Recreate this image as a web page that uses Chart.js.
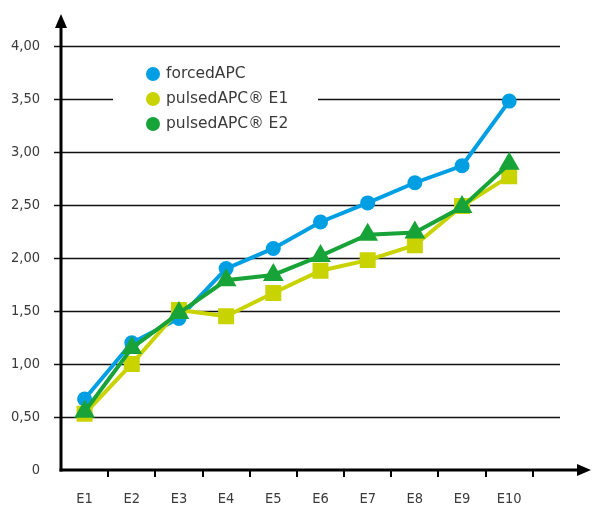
<!DOCTYPE html>
<html>
<head>
<meta charset="utf-8">
<script src="https://cdn.jsdelivr.net/npm/chart.js@4"></script>
<style>
  html, body { margin: 0; padding: 0; background: #fff; }
  canvas { display: block; }
</style>
</head>
<body>
<canvas id="chart" width="592" height="506"></canvas>
<script>
// data
const categories = ["E1", "E2", "E3", "E4", "E5", "E6", "E7", "E8", "E9", "E10", ""];
const forcedAPC = [0.67, 1.20, 1.43, 1.90, 2.09, 2.34, 2.52, 2.71, 2.87, 3.48];
const pulsedE1 = [0.53, 1.00, 1.51, 1.45, 1.67, 1.88, 1.98, 2.12, 2.49, 2.77];
const pulsedE2 = [0.55, 1.15, 1.48, 1.79, 1.84, 2.02, 2.22, 2.24, 2.48, 2.89];
const seriesNames = ["forcedAPC", "pulsedAPC® E1", "pulsedAPC® E2"];
const yMin = 0, yMax = 4, yStep = 0.5;

const FONT = "'DejaVu Sans Condensed', 'DejaVu Sans', sans-serif";
const LEGEND_FONT = "'DejaVu Sans', sans-serif";
const TEXT = "#3a3a3a";
const BLUE = "#009fe3", YELLOW = "#c9d300", GREEN = "#18a338";

// axes with arrows, gridlines, legend box
const decor = {
    id: "decor",
    beforeDatasetsDraw(chart) {
        const { ctx, scales: { x, y } } = chart;
        ctx.save();
        ctx.strokeStyle = "#111";
        ctx.lineWidth = 1.6;
        y.ticks.forEach(t => {
            if (t.value === 0) return;
            const py = Math.round(y.getPixelForValue(t.value)) + 0.5;
            ctx.beginPath();
            ctx.moveTo(x.left - 7, py);
            ctx.lineTo(x.right - 20, py);
            ctx.stroke();
        });
        ctx.restore();
    },
    afterDraw(chart) {
        const { ctx, scales: { x, y } } = chart;
        const x0 = x.left, y0 = y.getPixelForValue(0);
        ctx.save();
        ctx.strokeStyle = "#000";
        ctx.fillStyle = "#000";
        ctx.lineWidth = 3;
        // y axis
        ctx.beginPath();
        ctx.moveTo(x0, y0 + 1.5);
        ctx.lineTo(x0, 24);
        ctx.stroke();
        ctx.beginPath();
        ctx.moveTo(x0, 14);
        ctx.lineTo(x0 - 6, 28);
        ctx.lineTo(x0 + 6, 28);
        ctx.closePath();
        ctx.fill();
        // x axis
        ctx.beginPath();
        ctx.moveTo(x0 - 1.5, y0);
        ctx.lineTo(580, y0);
        ctx.stroke();
        ctx.beginPath();
        ctx.moveTo(591, y0);
        ctx.lineTo(577, y0 - 6);
        ctx.lineTo(577, y0 + 6);
        ctx.closePath();
        ctx.fill();
        // x tick marks between categories
        ctx.lineWidth = 2;
        for (let i = 0; i < categories.length - 1; i++) {
            const bx = Math.round((x.getPixelForValue(i) + x.getPixelForValue(i + 1)) / 2);
            ctx.beginPath();
            ctx.moveTo(bx, y0);
            ctx.lineTo(bx, y0 + 7);
            ctx.stroke();
        }

        // legend
        ctx.fillStyle = "#fff";
        ctx.fillRect(113, 60, 205, 76);
        ctx.font = "15.5px " + LEGEND_FONT;
        ctx.textBaseline = "middle";
        const colors = [BLUE, YELLOW, GREEN];
        seriesNames.forEach((name, i) => {
            const ly = 74 + i * 25;
            ctx.fillStyle = colors[i];
            ctx.beginPath();
            ctx.arc(153, ly, 7, 0, Math.PI * 2);
            ctx.fill();
            ctx.fillStyle = TEXT;
            ctx.fillText(name, 166, ly);
        });
        ctx.restore();
    }
};

function lineSet(label, data, color, style, radius, order) {
    return {
        label, data, order,
        borderColor: color,
        backgroundColor: color,
        borderWidth: 4,
        pointStyle: style,
        pointRadius: radius,
        pointHoverRadius: radius,
        pointBorderWidth: 0,
        tension: 0
    };
}

new Chart(document.getElementById("chart"), {
    type: "line",
    data: {
        labels: categories,
        datasets: [
            lineSet(seriesNames[0], forcedAPC, BLUE, "circle", 7.5, 3),
            lineSet(seriesNames[1], pulsedE1, YELLOW, "rect", 11.3, 2),
            lineSet(seriesNames[2], pulsedE2, GREEN, "triangle", 12, 1)
        ]
    },
    options: {
        responsive: false,
        animation: false,
        layout: { padding: { top: 46, right: 7, left: 0, bottom: 0 } },
        plugins: { legend: { display: false }, tooltip: { enabled: false } },
        scales: {
            x: {
                offset: true,
                grid: { display: false },
                border: { display: false },
                ticks: { color: TEXT, font: { family: FONT, size: 14.5 }, padding: 13, maxRotation: 0, autoSkip: false },
                afterFit(scale) { scale.height = 36; }
            },
            y: {
                min: yMin, max: yMax,
                grid: { display: false, drawTicks: false },
                border: { display: false },
                ticks: {
                    stepSize: yStep,
                    color: TEXT,
                    font: { family: FONT, size: 14.5 },
                    padding: 21,
                    callback: v => v === 0 ? "0" : v.toFixed(2).replace(".", ",")
                },
                afterFit(scale) { scale.width = 61; }
            }
        }
    },
    plugins: [decor]
});
</script>
</body>
</html>
